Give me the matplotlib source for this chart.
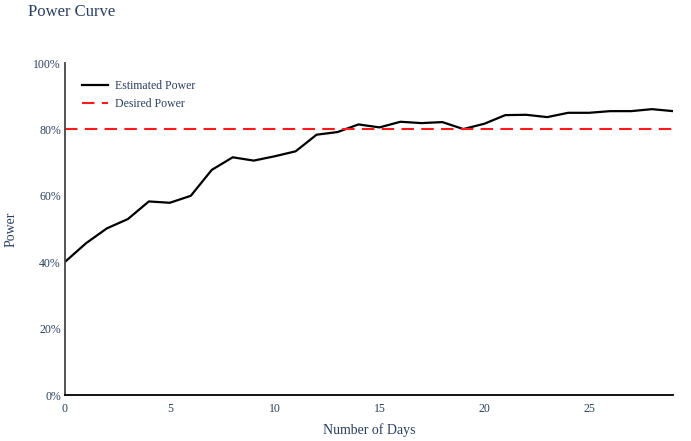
import numpy as np
import matplotlib.pyplot as plt
from matplotlib.ticker import PercentFormatter

# data
days = list(range(30))
power = [40.1, 45.7, 50.2, 53.0, 58.3, 57.9, 60.0, 67.8, 71.6, 70.6,
         71.9, 73.4, 78.4, 79.2, 81.5, 80.6, 82.3, 81.9, 82.2, 80.1,
         81.7, 84.3, 84.4, 83.7, 85.0, 85.0, 85.5, 85.5, 86.1, 85.5]
desired = 80

plt.rcParams['font.family'] = ['Liberation Serif', 'DejaVu Serif']
txt = '#2a3f5f'

fig = plt.figure(figsize=(6.91, 4.41), dpi=100)
ax = fig.add_axes([65/691, 1-395/441, (673-65)/691, (395-63)/441])

ax.plot(days, power, color='black', lw=1.6, label='Estimated Power')
ax.axhline(desired, color='#ff1a1a', lw=1.5, dashes=(6, 3.5), label='Desired Power')

ax.set_xlim(0, 29)
ax.set_ylim(0, 100)
ax.set_xticks([0, 5, 10, 15, 20, 25])
ax.set_yticks([0, 20, 40, 60, 80, 100])
ax.yaxis.set_major_formatter(PercentFormatter(decimals=0))
ax.tick_params(length=0, labelsize=8.5, colors=txt)
ax.tick_params(axis='x', pad=6)
ax.tick_params(axis='y', pad=3)

for s in ['top', 'right']:
    ax.spines[s].set_visible(False)
ax.spines['left'].set_color('#444444')
ax.spines['bottom'].set_color('black')
ax.spines['left'].set_linewidth(1.3)
ax.spines['bottom'].set_linewidth(1.3)

ax.set_xlabel('Number of Days', fontsize=10, color=txt)
ax.set_ylabel('Power', fontsize=10, color=txt)
ax.xaxis.set_label_coords(0.5, -0.085)
ax.yaxis.set_label_coords(-0.078, 0.5)
fig.text(28/691, 1-12/441, 'Power Curve', fontsize=12, color=txt, va='center')

leg = ax.legend(loc='upper left', bbox_to_anchor=(0.01, 0.98), frameon=False,
                fontsize=8.5, handlelength=2.2, handletextpad=0.6, labelspacing=0.5)
for t in leg.get_texts():
    t.set_color(txt)

fig.savefig('out.png', dpi=100)
